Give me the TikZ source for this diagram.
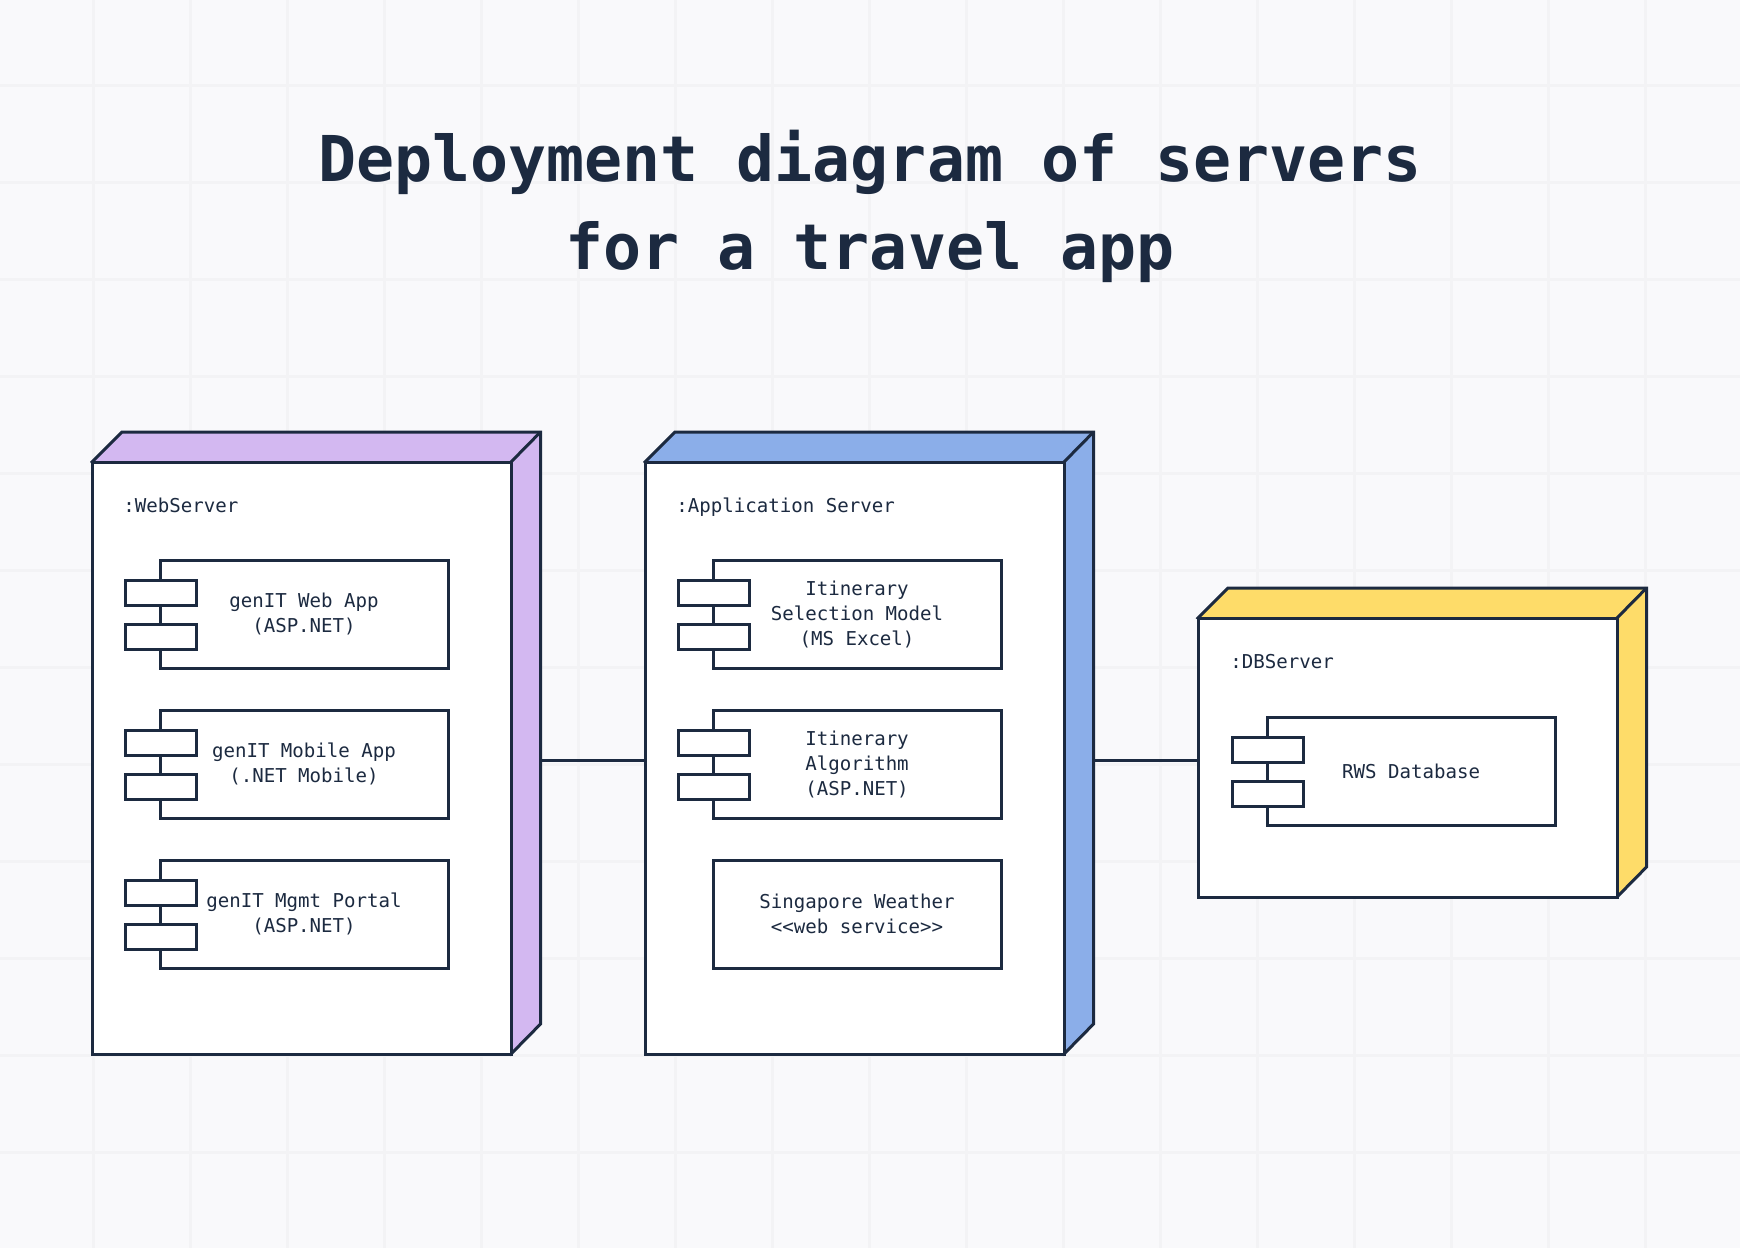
\documentclass[tikz,border=0pt]{standalone}
\usepackage{fontspec}
\newfontfamily\monof{DejaVu Sans Mono}
\definecolor{bgc}{HTML}{F9F9FB}
\definecolor{gridc}{HTML}{F3F3F5}
\definecolor{ink}{HTML}{1C2A40}
\definecolor{purp}{HTML}{D3B8F1}
\definecolor{blu}{HTML}{8BAEE9}
\definecolor{yel}{HTML}{FEDC69}
\tikzset{
  x=0.5pt,y=-0.5pt,
  edge/.style={draw=ink,line width=1.5pt,line join=miter},
  frontbox/.style={edge,fill=white,inner sep=0pt,outer sep=0pt,anchor=north west},
  body/.style={frontbox,minimum width=144pt,minimum height=54pt},
  tabbox/.style={frontbox,minimum width=35.5pt,minimum height=12.5pt},
  sidetxt/.style={text=ink,font=\monof\fontsize{9.55}{12.5}\selectfont,align=center,inner sep=0pt},
  headtxt/.style={text=ink,font=\monof\fontsize{9.55}{12.5}\selectfont,inner sep=0pt,anchor=base west},
  titletxt/.style={text=ink,font=\monof\bfseries\fontsize{31.6}{44}\selectfont,align=center,inner sep=0pt,anchor=base},
  link/.style={draw=ink,line width=1.5pt}
}
% name, x1, y1, x2, y2, colour
\newcommand{\serverbox}[6]{%
  \path[edge,fill=#6] (#2,#3) -- ({#2+30},{#3-30}) -- ({#4+29.5},{#3-30}) -- ({#4+29.5},{#5-30}) -- (#4,#5) -- cycle;
  \path[edge] (#4,#3) -- ({#4+29.5},{#3-30});
  \node[frontbox,minimum width={(#4-#2)*0.5pt},minimum height={(#5-#3)*0.5pt}] (#1F) at (#2,#3) {};
}
% name, x of body, y of body, text
\newcommand{\compbox}[4]{%
  \node[body] (#1) at (#2,#3) {};
  \node[tabbox] (#1a) at ({#2-35},{#3+20.5}) {};
  \node[tabbox] (#1b) at ({#2-35},{#3+64}) {};
  \node[sidetxt] (#1t) at (#1.center) {#4};
}
\begin{document}
\begin{tikzpicture}
\useasboundingbox (0,0) rectangle (1740,1248);
\fill[bgc] (0,0) rectangle (1740,1248);
\foreach \i in {0,...,17} \draw[gridc,line width=1.5pt] ({93+97.05*\i},0) -- ({93+97.05*\i},1248);
\foreach \i in {0,...,11} \draw[gridc,line width=1.5pt] (0,{85+97.05*\i}) -- (1740,{85+97.05*\i});

\node[titletxt] (title1) at (870,181) {Deployment diagram of servers};
\node[titletxt] (title2) at (870,269) {for a travel app};

\coordinate (webE) at (540,760);
\coordinate (appE) at (1093,760);

\serverbox{web}{92}{462}{511}{1054}{purp}
\serverbox{app}{645}{462}{1064}{1054}{blu}
\serverbox{db}{1198}{618}{1617}{897}{yel}

\draw[link] (webE) -- (appF.west |- webE);
\draw[link] (appE) -- (dbF.west |- appE);

\node[headtxt] (webh) at (123,512) {:WebServer};
\node[headtxt] (apph) at (676,512) {:Application Server};
\node[headtxt] (dbh) at (1230,668) {:DBServer};

\compbox{w1}{160}{560}{genIT Web App\\(ASP.NET)}
\compbox{w2}{160}{710}{genIT Mobile App\\(.NET Mobile)}
\compbox{w3}{160}{860}{genIT Mgmt Portal\\(ASP.NET)}

\compbox{a1}{713}{560}{Itinerary\\Selection Model\\(MS Excel)}
\compbox{a2}{713}{710}{Itinerary\\Algorithm\\(ASP.NET)}
\node[body] (a3) at (713,860) {};
\node[sidetxt] (a3t) at (a3.center) {Singapore Weather\\<{}<web service>{}>};

\compbox{d1}{1267}{717}{RWS Database}
\end{tikzpicture}
\end{document}
